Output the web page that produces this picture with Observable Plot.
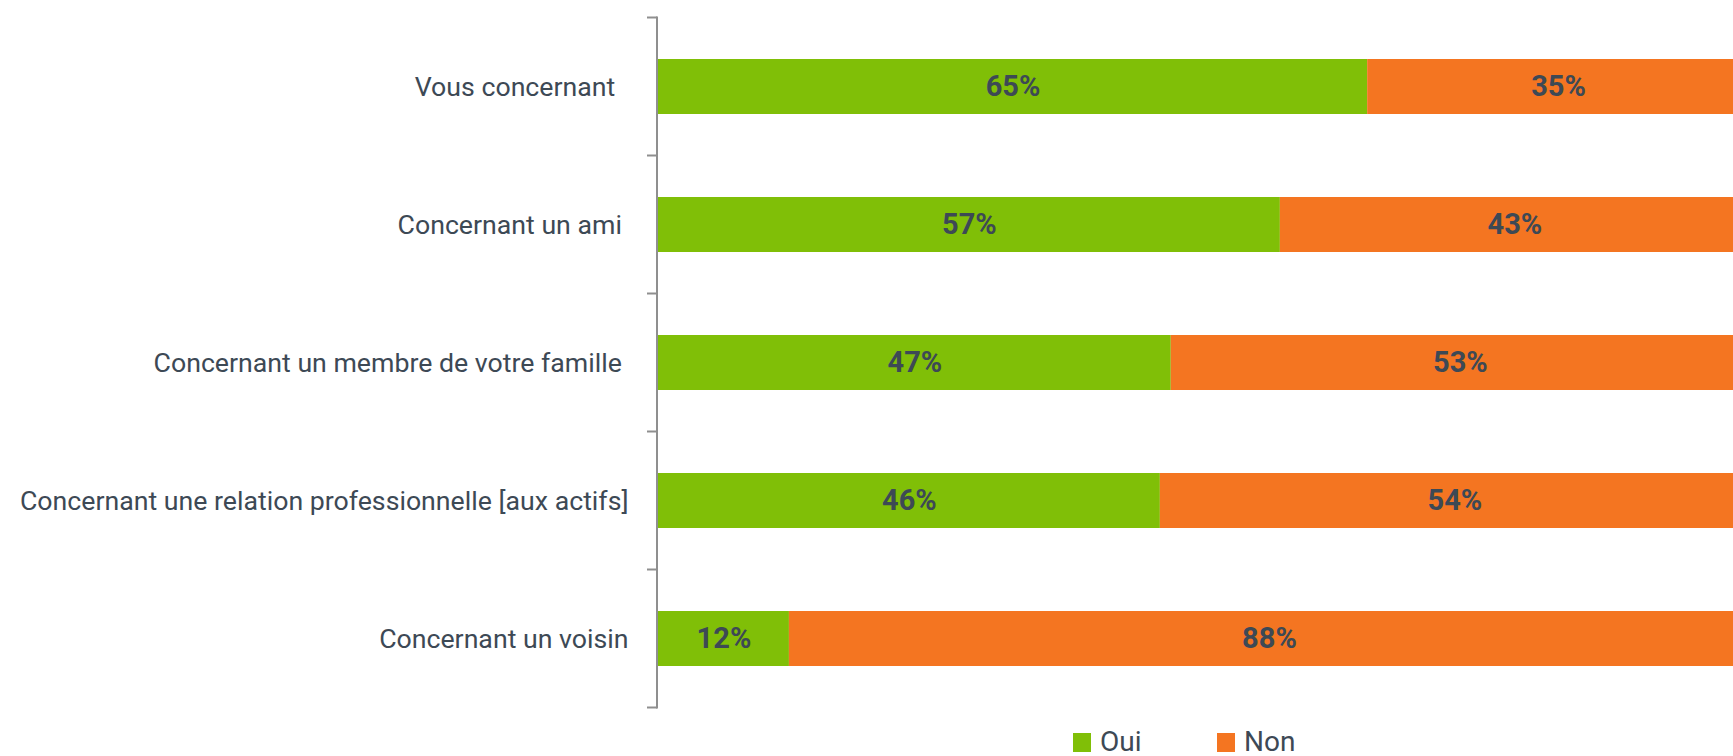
<!DOCTYPE html>
<html>
<head>
<meta charset="utf-8">
<script src="https://cdn.jsdelivr.net/npm/d3@7"></script>
<script src="https://cdn.jsdelivr.net/npm/@observablehq/plot@0.6"></script>
<style>
  html, body { margin: 0; padding: 0; background: #fff; overflow: hidden; }
  #chart svg { display: block; max-width: none !important; }
  #chart svg text { white-space: pre; }
  .legend { position: relative; height: 33px; width: 1733px; font-family: Roboto, sans-serif; font-size: 28px; line-height: 28px; color: #3d4955; }
  .legend .item { position: absolute; top: 5px; display: flex; align-items: center; height: 28px; }
  .legend .sw { width: 18px; height: 19px; margin-right: 9px; }
</style>
</head>
<body>
<div id="chart"></div>
<div class="legend" id="legend"></div>
<script>
const categories = [
  "Vous concernant  ",
  "Concernant un ami ",
  "Concernant un membre de votre famille ",
  "Concernant une relation professionnelle [aux actifs]",
  "Concernant un voisin"
];
const responses = ["Oui", "Non"];
const ouiValues = [65, 57, 47, 46, 12];
const nonValues = [35, 43, 53, 54, 88];
const colors = ["#80bf07", "#f47521"];
const textColor = "#3d4955";

const data = [];
categories.forEach((c, i) => {
  data.push({cat: c, resp: "Oui", value: ouiValues[i]});
  data.push({cat: c, resp: "Non", value: nonValues[i]});
});

// y axis line with ticks at band boundaries, drawn from the y scale
function yAxisLine(index, scales, values, dims) {
  const y = scales.y;
  const step = y.step();
  const bw = y.bandwidth();
  const x0 = dims.marginLeft - 1;
  const g = d3.create("svg:g").attr("stroke", "#8f8f8f").attr("stroke-width", 2).attr("fill", "none");
  const dom = y.domain();
  const bounds = dom.map(d => y(d) + bw / 2 - step / 2);
  bounds.push(y(dom[dom.length - 1]) + bw / 2 + step / 2);
  g.append("line").attr("x1", x0).attr("x2", x0).attr("y1", bounds[0] - 1).attr("y2", bounds[bounds.length - 1] + 1);
  for (const b of bounds) {
    g.append("line").attr("x1", x0 - 10).attr("x2", x0).attr("y1", b).attr("y2", b);
  }
  return g.node();
}

const plot = Plot.plot({
  width: 1733,
  height: 723,
  marginTop: 16,
  marginBottom: 14,
  marginLeft: 658,
  marginRight: 0,
  style: {background: "#fff", overflow: "hidden"},
  x: {domain: [0, 100], range: [658, 1749], axis: null},
  y: {domain: categories, paddingInner: 0.6, paddingOuter: 0.3, label: null},
  color: {domain: responses, range: colors},
  marks: [
    Plot.barX(data, Plot.stackX({x: "value", y: "cat", fill: "resp", order: responses})),
    Plot.text(data, Plot.stackX({x: "value", y: "cat", z: "resp", order: responses,
      text: d => d.value + "%", fill: textColor, fontSize: 29, fontWeight: "bold",
      fontFamily: "Roboto, sans-serif"})),
    Plot.axisY({tickSize: 0, tickPadding: 30, fontSize: 26.7, fontFamily: "Roboto, sans-serif",
      color: textColor, label: null}),
    yAxisLine
  ]
});
plot.querySelectorAll("text").forEach(t => t.style.fill = textColor);
document.getElementById("chart").appendChild(plot);

const legend = document.getElementById("legend");
const legendLeft = [1073, 1217];
responses.forEach((r, i) => {
  const item = document.createElement("div");
  item.className = "item";
  item.style.left = legendLeft[i] + "px";
  item.innerHTML = `<div class="sw" style="background:${colors[i]}"></div><span>${r}</span>`;
  legend.appendChild(item);
});
</script>
</body>
</html>
